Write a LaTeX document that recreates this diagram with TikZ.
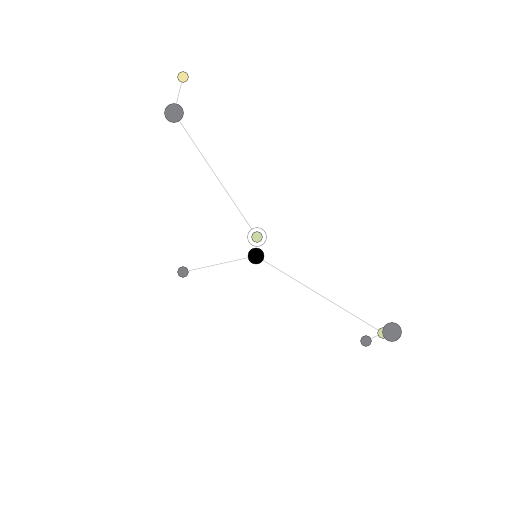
\documentclass[tikz,border=0pt]{standalone}
\usepackage{tikz}
\definecolor{nodegray}{RGB}{128,130,133}
\definecolor{leafgreen}{RGB}{204,216,168}
\definecolor{sunyellow}{RGB}{240,228,164}
\tikzset{
  vert/.style={circle, draw=black!70, line width=0.4pt, inner sep=0pt},
  big/.style={vert, minimum size=19pt, fill=nodegray},
  small/.style={vert, minimum size=11pt, fill=nodegray},
  hub/.style={vert, minimum size=16pt, fill=black, draw=black},
  leaf/.style={vert, minimum size=11pt, fill=leafgreen},
  sun/.style={vert, minimum size=11pt, fill=sunyellow},
  edge/.style={draw=black!25, line width=0.5pt}
}
\begin{document}
\begin{tikzpicture}[x=1pt, y=-1pt]
						\useasboundingbox (0,0) rectangle (512,512);
						\node[hub] (c) at (256, 256) {};
						\node[leaf] (t) at (257, 237) {};
						\node[circle, draw=black!50, minimum size=19pt, inner sep=0pt] (tr) at (257, 237) {};
						\node[big] (g1) at (174, 113) {};
						\node[sun] (y) at (183, 77) {};
						\node[small] (g2) at (183, 272) {};
						\node[small] (g3) at (366, 341) {};
						\node[leaf] (l) at (383, 333) {};
						\node[big] (g4) at (392, 332) {};
						\draw[edge] (tr) to (g1);
						\draw[edge] (g1) to (y);
						\draw[edge] (c) to (g2);
						\draw[edge] (c) to (l);
						\draw[edge] (g3) to (l);
					\end{tikzpicture}
\end{document}
